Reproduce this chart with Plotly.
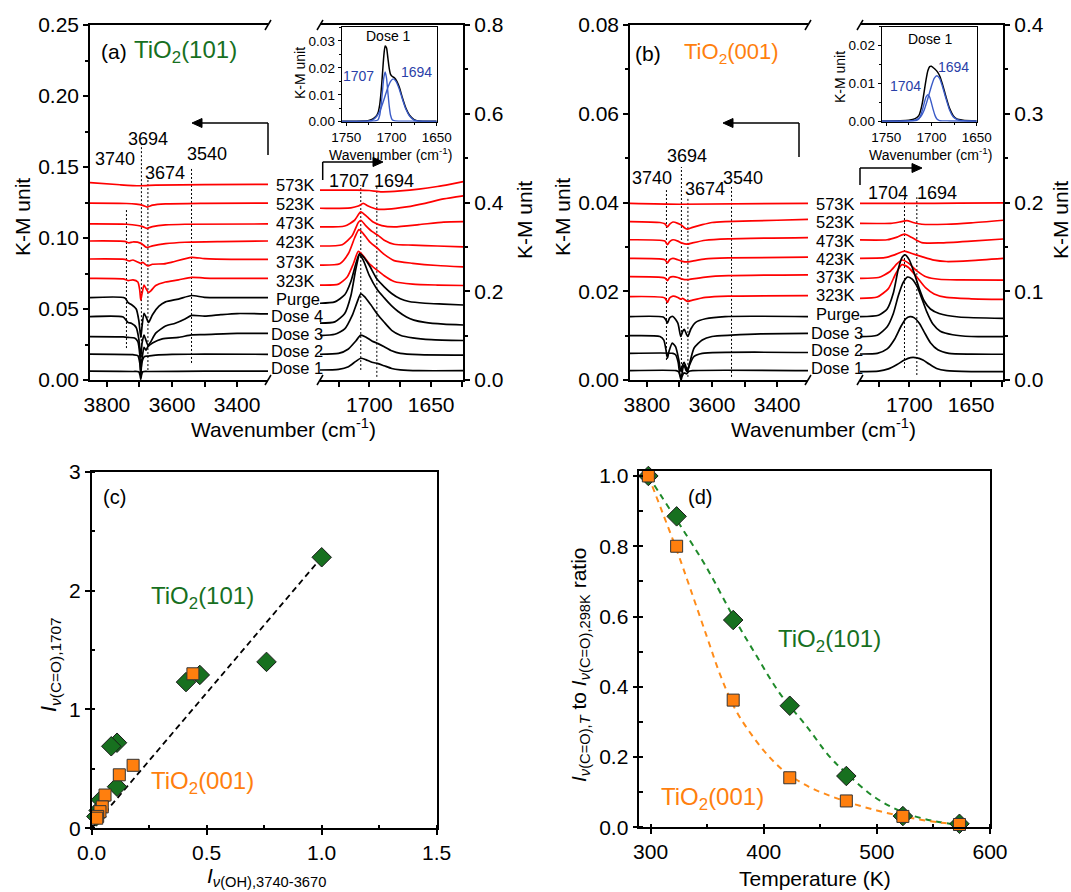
import plotly.graph_objects as go

# ---------------- DRIFT spectra, TiO2(101): O-H region (wavenumber, K-M) ----------------
a101_oh_573 = [(3852, .1390), (3760, .1375), (3700, .1368), (3650, .1372), (3500, .1376), (3305, .1378)]
a101_oh_523 = [(3852, .1245), (3740, .1243), (3710, .1238), (3690, .1230), (3676, .1218), (3660, .1231),
               (3620, .1240), (3500, .1244), (3305, .1246)]
a101_oh_473 = [(3852, .1099), (3740, .1097), (3705, .1088), (3690, .1080), (3678, .1068), (3660, .1080),
               (3620, .1092), (3560, .1097), (3305, .1099)]
a101_oh_423 = [(3852, .0979), (3745, .0976), (3732, .0966), (3720, .0972), (3695, .0962), (3678, .0934),
               (3660, .0945), (3620, .0960), (3560, .0970), (3450, .0975), (3305, .0979)]
a101_oh_373 = [(3852, .0852), (3745, .0849), (3732, .0838), (3720, .0845), (3696, .0822), (3690, .0828),
               (3674, .0803), (3660, .0815), (3625, .0818), (3600, .0830), (3540, .0864), (3500, .0855),
               (3400, .0850), (3305, .0850)]
a101_oh_323 = [(3852, .0716), (3750, .0712), (3735, .0700), (3720, .0705), (3705, .0690), (3699, .0630),
               (3696, .0563), (3692, .0610), (3686, .0669), (3679, .0640), (3672, .0615), (3665, .0628),
               (3650, .0665), (3620, .0690), (3580, .0705), (3540, .0723), (3500, .0718), (3400, .0715),
               (3305, .0716)]
a101_oh_purge = [(3852, .0580), (3745, .0578), (3735, .0545), (3725, .0532), (3710, .0500), (3702, .0420),
                 (3696, .0300), (3692, .0380), (3686, .0470), (3679, .0440), (3672, .0405), (3660, .0460),
                 (3640, .0520), (3620, .0550), (3580, .0570), (3540, .0595), (3500, .0582), (3400, .0580),
                 (3305, .0580)]
a101_oh_dose4 = [(3852, .0446), (3750, .0443), (3735, .0405), (3725, .0400), (3710, .0370), (3702, .0290),
                 (3696, .0160), (3692, .0260), (3686, .0317), (3680, .0280), (3674, .0245), (3665, .0270),
                 (3650, .0330), (3620, .0380), (3590, .0400), (3560, .0430), (3540, .0455), (3500, .0450),
                 (3450, .0460), (3400, .0468), (3305, .0465)]
a101_oh_dose3 = [(3852, .0305), (3750, .0303), (3735, .0300), (3715, .0295), (3705, .0270), (3699, .0180),
                 (3696, .0060), (3692, .0150), (3686, .0230), (3680, .0210), (3674, .0235), (3660, .0260),
                 (3630, .0290), (3580, .0300), (3540, .0318), (3500, .0320), (3400, .0328), (3305, .0328)]
a101_oh_dose2 = [(3852, .0182), (3720, .0178), (3705, .0172), (3699, .0120), (3696, .0030), (3693, .0120),
                 (3685, .0165), (3674, .0168), (3650, .0175), (3600, .0180), (3500, .0182), (3305, .0181)]
a101_oh_dose1 = [(3852, .0062), (3720, .0060), (3702, .0058), (3698, .0030), (3696, .0005), (3694, .0030),
                 (3690, .0058), (3674, .0060), (3500, .0062), (3305, .0062)]

# ---------------- TiO2(101): C=O region ----------------
a101_co_573 = [(1740, .428), (1710, .428), (1700, .427), (1690, .424), (1675, .426), (1660, .430),
               (1645, .436), (1635, .441), (1624, .447)]
a101_co_523 = [(1740, .387), (1715, .388), (1709, .392), (1705, .398), (1701, .392), (1694, .385),
               (1685, .385), (1670, .390), (1655, .398), (1640, .408), (1624, .415)]
a101_co_473 = [(1740, .345), (1720, .347), (1712, .360), (1707, .379), (1702, .368), (1697, .356),
               (1690, .348), (1680, .345), (1660, .350), (1640, .356), (1624, .357)]
a101_co_423 = [(1740, .302), (1722, .305), (1714, .325), (1709, .355), (1707, .360), (1703, .348),
               (1698, .335), (1693, .326), (1688, .315), (1680, .306), (1665, .304), (1645, .302), (1624, .300)]
a101_co_373 = [(1740, .259), (1724, .262), (1717, .285), (1712, .320), (1708.5, .339), (1705, .330),
               (1700, .312), (1694, .298), (1688, .283), (1680, .269), (1665, .263), (1645, .258), (1624, .255)]
a101_co_323 = [(1740, .214), (1725, .216), (1718, .232), (1713, .262), (1709, .290), (1705, .280),
               (1700, .262), (1694, .248), (1688, .235), (1680, .222), (1665, .216), (1645, .214), (1624, .213)]
a101_co_purge = [(1740, .173), (1728, .176), (1720, .192), (1715, .222), (1711, .262), (1708, .285),
                 (1705, .278), (1700, .258), (1694, .228), (1688, .210), (1682, .195), (1675, .183),
                 (1668, .177), (1655, .173), (1640, .171), (1624, .169)]
a101_co_dose4 = [(1740, .128), (1728, .131), (1720, .150), (1715, .190), (1711, .250), (1708, .282),
                 (1705, .270), (1700, .235), (1694, .205), (1688, .185), (1682, .167), (1677, .155),
                 (1670, .142), (1664, .135), (1655, .130), (1640, .126), (1624, .124)]
a101_co_dose3 = [(1740, .100), (1728, .103), (1720, .115), (1714, .145), (1710, .175), (1707, .194),
                 (1704, .188), (1699, .170), (1694, .150), (1688, .130), (1682, .112), (1675, .101),
                 (1665, .095), (1650, .091), (1624, .089)]
a101_co_dose2 = [(1740, .058), (1725, .060), (1717, .070), (1711, .088), (1707, .101), (1703, .097),
                 (1698, .088), (1693, .082), (1688, .075), (1682, .066), (1675, .060), (1660, .057), (1624, .056)]
a101_co_dose1 = [(1740, .0225), (1725, .024), (1717, .030), (1711, .042), (1707, .049), (1703, .046),
                 (1698, .040), (1693, .037), (1688, .032), (1682, .026), (1675, .023), (1660, .021), (1624, .021)]

# ---------------- TiO2(001): O-H region ----------------
b001_oh_573 = [(3852, .0398), (3700, .0396), (3305, .0398)]
b001_oh_523 = [(3852, .0357), (3760, .0355), (3745, .0352), (3737, .0345), (3730, .0351), (3720, .0356),
               (3705, .0353), (3694, .0349), (3685, .0343), (3676, .0340), (3660, .0344), (3630, .0350),
               (3600, .0355), (3560, .0357), (3400, .0360), (3305, .0362)]
b001_oh_473 = [(3852, .0316), (3745, .0313), (3737, .0305), (3730, .0312), (3720, .0316), (3705, .0313),
               (3694, .0309), (3676, .0306), (3660, .0309), (3620, .0315), (3550, .0318), (3305, .0321)]
b001_oh_423 = [(3852, .0274), (3745, .0271), (3737, .0264), (3730, .0271), (3720, .0274), (3705, .0271),
               (3694, .0268), (3676, .0266), (3660, .0268), (3620, .0273), (3550, .0275), (3305, .0277)]
b001_oh_373 = [(3852, .0233), (3745, .0230), (3737, .0224), (3730, .0231), (3720, .0233), (3705, .0231),
               (3694, .0228), (3676, .0226), (3660, .0228), (3620, .0232), (3550, .0235), (3305, .0237)]
b001_oh_323 = [(3852, .0188), (3745, .0185), (3737, .0175), (3730, .0185), (3720, .0189), (3705, .0186),
               (3696, .0182), (3690, .0184), (3676, .0177), (3660, .0180), (3620, .0186), (3550, .0189),
               (3305, .0190)]
b001_oh_purge = [(3852, .0143), (3750, .0142), (3742, .0136), (3737, .0128), (3730, .0140), (3720, .0143),
                 (3705, .0128), (3696, .0098), (3690, .0110), (3685, .0114), (3679, .0104), (3674, .0098),
                 (3665, .0115), (3650, .0130), (3620, .0138), (3560, .0143), (3305, .0143)]
b001_oh_dose3 = [(3852, .0100), (3760, .0098), (3748, .0090), (3742, .0070), (3737, .0049), (3732, .0065),
                 (3722, .0083), (3712, .0075), (3702, .0045), (3696, .0020), (3690, .0035), (3686, .0040),
                 (3680, .0030), (3676, .0019), (3668, .0040), (3655, .0072), (3630, .0090), (3600, .0098),
                 (3540, .0101), (3450, .0104), (3305, .0105)]
b001_oh_dose2 = [(3852, .0060), (3720, .0060), (3712, .0057), (3704, .0040), (3698, .0010), (3694, .0008),
                 (3690, .0025), (3686, .0034), (3680, .0022), (3676, .0019), (3668, .0036), (3655, .0053),
                 (3630, .0060), (3305, .0062)]
b001_oh_dose1 = [(3852, .0021), (3710, .0021), (3702, .0018), (3698, .0008), (3695, .0000), (3692, .0008),
                 (3686, .0016), (3678, .0014), (3672, .0019), (3660, .0021), (3305, .0021)]

# ---------------- TiO2(001): C=O region ----------------
b001_co_573 = [(1740, .1990), (1700, .1990), (1660, .1992), (1624, .1995)]
b001_co_523 = [(1740, .1765), (1715, .1765), (1708, .1780), (1702, .1795), (1697, .1775), (1690, .1755),
               (1670, .1755), (1650, .1770), (1624, .1800)]
b001_co_473 = [(1740, .1578), (1718, .1580), (1710, .1610), (1704, .1643), (1698, .1605), (1690, .1548),
               (1675, .1545), (1650, .1565), (1624, .1589)]
b001_co_423 = [(1740, .1371), (1720, .1378), (1712, .1410), (1704, .1453), (1698, .1425), (1690, .1390),
               (1680, .1350), (1670, .1335), (1650, .1345), (1624, .1370)]
b001_co_373 = [(1740, .1146), (1725, .1155), (1716, .1220), (1710, .1310), (1706, .1352), (1701, .1320),
               (1694, .1230), (1686, .1160), (1676, .1135), (1660, .1128), (1624, .1125)]
b001_co_323 = [(1740, .0920), (1726, .0935), (1717, .1030), (1711, .1200), (1706, .1300), (1701, .1270),
               (1694, .1160), (1687, .1040), (1680, .0970), (1670, .0930), (1650, .0915), (1624, .0909)]
b001_co_purge = [(1740, .0714), (1725, .0730), (1718, .0800), (1713, .0980), (1709, .1250), (1706, .1380),
                 (1703.5, .1409), (1700, .1350), (1696, .1200), (1692, .1030), (1688, .0890), (1683, .0800),
                 (1676, .0750), (1660, .0710), (1624, .0695)]
b001_co_dose3 = [(1740, .0488), (1726, .0505), (1718, .0600), (1713, .0750), (1709, .0950), (1705, .1100),
                 (1701.5, .1160), (1698, .1140), (1694, .1060), (1690, .0920), (1686, .0770), (1681, .0630),
                 (1675, .0550), (1665, .0510), (1650, .0490), (1624, .0488)]
b001_co_dose2 = [(1740, .0293), (1726, .0300), (1718, .0350), (1712, .0460), (1707, .0600), (1703, .0690),
                 (1699.5, .0714), (1696, .0700), (1692, .0640), (1688, .0540), (1683, .0420), (1677, .0340),
                 (1668, .0300), (1650, .0292), (1624, .0290)]
b001_co_dose1 = [(1740, .0094), (1725, .0100), (1717, .0125), (1710, .0175), (1704, .0225), (1699, .0252),
                 (1694, .0250), (1689, .0225), (1684, .0180), (1678, .0130), (1670, .0105), (1650, .0095),
                 (1624, .0094)]

# ---------------- insets: Dose 1 carbonyl band and its two fitted components ----------------
inset_a_total = [(1755, .0002), (1726, .0004), (1721, .0009), (1717, .0020), (1715, .0032), (1713, .0063),
                 (1711.5, .0110), (1710, .0175), (1708.5, .0243), (1707, .0281), (1705.5, .0275),
                 (1704, .0238), (1702.5, .0199), (1701, .0176), (1699, .0168), (1697, .0164), (1694, .0150),
                 (1691, .0125), (1688, .0090), (1684, .0050), (1680, .0024), (1675, .0008), (1670, .0003),
                 (1650, .0002)]
inset_a_1707 = [(1755, .0001), (1725, .0002), (1717, .0004), (1715, .0006), (1713, .0024), (1711.5, .0059),
                (1710, .0111), (1708.5, .0163), (1707, .0185), (1705.5, .0163), (1704, .0111), (1702.5, .0059),
                (1701, .0024), (1699, .0006), (1696, .0003), (1680, .0002), (1650, .0001)]
inset_a_1694 = [(1755, .0001), (1726, .0002), (1721, .0006), (1716, .0021), (1712, .0046), (1708, .0085),
                (1704, .0127), (1701, .0150), (1698, .0159), (1695, .0150), (1692, .0127), (1688, .0085),
                (1684, .0046), (1680, .0021), (1675, .0006), (1670, .0002), (1650, .0001)]
inset_b_total = [(1755, .0002), (1725, .0004), (1718, .0008), (1714, .0016), (1712, .0029), (1710, .0050),
                 (1708, .0080), (1706, .0110), (1704, .0134), (1702, .0145), (1700, .0146), (1698, .0142),
                 (1696, .0138), (1694, .0133), (1691, .0121), (1688, .0100), (1684, .0066), (1680, .0035),
                 (1676, .0016), (1672, .0007), (1665, .0004), (1650, .0002)]
inset_b_1704 = [(1755, .0001), (1725, .0002), (1717, .0003), (1714, .0007), (1712, .0016), (1710, .0031),
                (1708, .0049), (1706, .0065), (1704, .0071), (1702, .0065), (1700, .0049), (1698, .0031),
                (1696, .0016), (1694, .0007), (1691, .0003), (1680, .0002), (1650, .0001)]
inset_b_1694 = [(1755, .0001), (1725, .0002), (1720, .0003), (1716, .0006), (1712, .0013), (1708, .0031),
                (1704, .0061), (1700, .0094), (1697, .0114), (1694, .0121), (1691, .0114), (1688, .0094),
                (1684, .0061), (1680, .0031), (1676, .0013), (1672, .0006), (1668, .0003), (1660, .0002),
                (1650, .0001)]

# ---------------- guide lines at assigned band positions ----------------
oh_bands = [3740, 3694, 3674, 3540]
a_oh_band_lo = [.0225, .0020, .0070, .0120]
a_oh_band_hi = [.1210, .1660, .1420, .1500]
b_oh_band_lo = [.0045, .0000, .0007, .0007]
b_oh_band_hi = [.0428, .0480, .0412, .0435]
a_co_bands = [1707, 1694]
a_co_band_lo = [.0225, .0070]
a_co_band_hi = [.439, .439]
b_co_bands = [1704, 1694]
b_co_band_lo = [.0135, .0056]
b_co_band_hi = [.206, .206]

# ---------------- (c) carbonyl vs. hydroxyl intensity ----------------
c101_oh = [1.00, 0.76, 0.47, 0.41, 0.11, 0.085, 0.11, 0.04, 0.03, 0.02]
c101_co = [2.28, 1.40, 1.29, 1.23, 0.72, 0.69, 0.35, 0.24, 0.15, 0.10]
c001_oh = [0.44, 0.18, 0.12, 0.058, 0.046, 0.036, 0.026, 0.022]
c001_co = [1.30, 0.53, 0.45, 0.28, 0.18, 0.14, 0.10, 0.085]
c_fit_oh = [0.0, 1.0]
c_fit_co = [0.0, 2.28]

# ---------------- (d) thermal stability ----------------
d_temp = [298, 323, 373, 423, 473, 523, 573]
d101_ratio = [1.0, 0.885, 0.59, 0.346, 0.146, 0.032, 0.010]
d001_ratio = [1.0, 0.80, 0.362, 0.141, 0.075, 0.031, 0.008]
d101_fit_t = [298, 308, 325, 349, 373, 394, 414, 438, 458, 473, 497, 523, 550, 576]
d101_fit_r = [1.0, 0.95, 0.865, 0.742, 0.60, 0.486, 0.382, 0.287, 0.202, 0.154, 0.088, 0.043, 0.018, 0.006]
d001_fit_t = [298, 310, 323, 335, 350, 362, 375, 390, 405, 420, 440, 460, 480, 500, 520, 540, 560, 576]
d001_fit_r = [1.0, 0.90, 0.79, 0.68, 0.54, 0.43, 0.335, 0.26, 0.20, 0.155, 0.115, 0.088, 0.066, 0.048,
              0.033, 0.021, 0.012, 0.007]

a_names = ["573K", "523K", "473K", "423K", "373K", "323K", "Purge", "Dose 4", "Dose 3", "Dose 2", "Dose 1"]
b_names = ["573K", "523K", "473K", "423K", "373K", "323K", "Purge", "Dose 3", "Dose 2", "Dose 1"]

# ======================================================================
W, H = 1071, 892
FONT = "Liberation Sans, Arial, Helvetica, sans-serif"
RED, BLACK = "#ff0000", "#000000"
GREEN, ORANGE, BLUE = "#17701f", "#ff7f0e", "#2a3fa8"
BLUE_LINE = "#3a5bc7"


def fx(p):
    return p / W


def fy(p):
    return 1 - p / H


fig = go.Figure()


def add_curve(pts, xa, ya, color, width=1.7, shape="spline"):
    fig.add_trace(go.Scatter(
        x=[p[0] for p in pts], y=[p[1] for p in pts], mode="lines", xaxis=xa, yaxis=ya,
        line=dict(color=color, width=width, shape=shape, smoothing=0.6), hoverinfo="skip"))


def add_guides(xs, lo, hi, xa, ya):
    for x, a, b in zip(xs, lo, hi):
        fig.add_trace(go.Scatter(x=[x, x], y=[a, b], mode="lines", xaxis=xa, yaxis=ya,
                                 line=dict(color=BLACK, width=1, dash="2px,2px"), hoverinfo="skip"))


# spectra
a_oh = [a101_oh_573, a101_oh_523, a101_oh_473, a101_oh_423, a101_oh_373, a101_oh_323,
        a101_oh_purge, a101_oh_dose4, a101_oh_dose3, a101_oh_dose2, a101_oh_dose1]
a_co = [a101_co_573, a101_co_523, a101_co_473, a101_co_423, a101_co_373, a101_co_323,
        a101_co_purge, a101_co_dose4, a101_co_dose3, a101_co_dose2, a101_co_dose1]
b_oh = [b001_oh_573, b001_oh_523, b001_oh_473, b001_oh_423, b001_oh_373, b001_oh_323,
        b001_oh_purge, b001_oh_dose3, b001_oh_dose2, b001_oh_dose1]
b_co = [b001_co_573, b001_co_523, b001_co_473, b001_co_423, b001_co_373, b001_co_323,
        b001_co_purge, b001_co_dose3, b001_co_dose2, b001_co_dose1]

add_guides(oh_bands, a_oh_band_lo, a_oh_band_hi, "x", "y")
add_guides(a_co_bands, a_co_band_lo, a_co_band_hi, "x2", "y2")
add_guides(oh_bands, b_oh_band_lo, b_oh_band_hi, "x3", "y3")
add_guides(b_co_bands, b_co_band_lo, b_co_band_hi, "x4", "y4")

for name, s1, s2 in zip(a_names, a_oh, a_co):
    col = RED if name.endswith("K") else BLACK
    add_curve(s1, "x", "y", col)
    add_curve(s2, "x2", "y2", col)
for name, s1, s2 in zip(b_names, b_oh, b_co):
    col = RED if name.endswith("K") else BLACK
    add_curve(s1, "x3", "y3", col)
    add_curve(s2, "x4", "y4", col)

# insets
add_curve(inset_a_total, "x5", "y5", BLACK, 1.5)
add_curve(inset_a_1707, "x5", "y5", BLUE_LINE, 1.4)
add_curve(inset_a_1694, "x5", "y5", BLUE_LINE, 1.4)
add_curve(inset_b_total, "x6", "y6", BLACK, 1.5)
add_curve(inset_b_1704, "x6", "y6", BLUE_LINE, 1.4)
add_curve(inset_b_1694, "x6", "y6", BLUE_LINE, 1.4)

# (c)
fig.add_trace(go.Scatter(x=c_fit_oh, y=c_fit_co, mode="lines", xaxis="x7", yaxis="y7",
                         line=dict(color=BLACK, width=1.8, dash="6px,4px"), hoverinfo="skip"))
fig.add_trace(go.Scatter(x=c101_oh, y=c101_co, mode="markers", xaxis="x7", yaxis="y7", cliponaxis=False,
                         marker=dict(symbol="diamond", size=15, color=GREEN, line=dict(color="#1a1a1a", width=1)),
                         hoverinfo="skip"))
fig.add_trace(go.Scatter(x=c001_oh, y=c001_co, mode="markers", xaxis="x7", yaxis="y7", cliponaxis=False,
                         marker=dict(symbol="square", size=12, color=ORANGE, line=dict(color="#333333", width=1)),
                         hoverinfo="skip"))

# (d)
fig.add_trace(go.Scatter(x=d101_fit_t, y=d101_fit_r, mode="lines", xaxis="x8", yaxis="y8",
                         line=dict(color="#1f8a2a", width=2, dash="6px,5px", shape="spline"), hoverinfo="skip"))
fig.add_trace(go.Scatter(x=d001_fit_t, y=d001_fit_r, mode="lines", xaxis="x8", yaxis="y8",
                         line=dict(color="#ff8c1a", width=2, dash="6px,5px", shape="spline"), hoverinfo="skip"))
fig.add_trace(go.Scatter(x=d_temp, y=d101_ratio, mode="markers", xaxis="x8", yaxis="y8", cliponaxis=False,
                         marker=dict(symbol="diamond", size=15, color=GREEN, line=dict(color="#1a1a1a", width=1)),
                         hoverinfo="skip"))
fig.add_trace(go.Scatter(x=d_temp, y=d001_ratio, mode="markers", xaxis="x8", yaxis="y8", cliponaxis=False,
                         marker=dict(symbol="square", size=12, color=ORANGE, line=dict(color="#333333", width=1)),
                         hoverinfo="skip"))


# ---------------- axes ----------------
def ax(x0, x1, rng, anchor, size=21, **kw):
    d = dict(domain=[x0, x1], range=rng, anchor=anchor, automargin=False, showline=True, linecolor=BLACK,
             linewidth=1.5, ticks="outside", ticklen=5, tickwidth=1.5, tickcolor=BLACK, showgrid=False,
             zeroline=False, tickfont=dict(family=FONT, size=size, color=BLACK))
    d.update(kw)
    return d


def minor(where="outside", ln=3, width=1.5, **kw):
    d = dict(ticks=where, ticklen=ln, tickwidth=width, tickcolor=BLACK, showgrid=False)
    d.update(kw)
    return d


oh_ticks = dict(tickmode="array", tickvals=[3800, 3600, 3400],
                minor=minor(ln=5, tickmode="array", tickvals=[3700, 3500]))
co_ticks = dict(tickmode="array", tickvals=[1700, 1650],
                minor=minor(ln=5, tickmode="array", tickvals=[1725, 1675, 1625]))
inset_x = dict(tickmode="array", tickvals=[1750, 1700, 1650], ticklen=3, mirror=True,
               minor=minor(ln=2, width=1.2, tickmode="array", tickvals=[1725, 1675]))

layout_axes = dict(
    xaxis=ax(fx(90), fx(268), [3852, 3305], "y", mirror=True, **oh_ticks),
    yaxis=ax(fy(380), fy(25), [0, 0.25], "x", dtick=0.05, tickformat=".2f", minor=minor(dtick=0.025)),
    xaxis2=ax(fx(320), fx(463.3), [1740, 1624], "y2", mirror=True, **co_ticks),
    yaxis2=ax(fy(380), fy(25), [0, 0.8], "x2", side="right", dtick=0.2, tickformat=".1f",
              minor=minor(dtick=0.1)),
    xaxis3=ax(fx(630), fx(808), [3852, 3305], "y3", mirror=True, **oh_ticks),
    yaxis3=ax(fy(380), fy(25), [0, 0.08], "x3", dtick=0.02, tickformat=".2f", minor=minor(dtick=0.01)),
    xaxis4=ax(fx(860), fx(1003.3), [1740, 1624], "y4", mirror=True, **co_ticks),
    yaxis4=ax(fy(380), fy(25), [0, 0.4], "x4", side="right", dtick=0.1, tickformat=".1f",
              minor=minor(dtick=0.05)),
    xaxis5=ax(fx(341.7), fx(436.7), [1755, 1650], "y5", size=13.5, linewidth=1.2, tickwidth=1.2, **inset_x),
    yaxis5=ax(fy(121.7), fy(26.7), [0, 0.0353], "x5", size=13.5, linewidth=1.2, tickwidth=1.2, ticklen=3,
              mirror=True, dtick=0.01, tickformat=".2f", minor=minor(ln=2, width=1.2, dtick=0.005)),
    xaxis6=ax(fx(881.7), fx(976.7), [1755, 1650], "y6", size=13.5, linewidth=1.2, tickwidth=1.2, **inset_x),
    yaxis6=ax(fy(121.7), fy(26.7), [0, 0.025], "x6", size=13.5, linewidth=1.2, tickwidth=1.2, ticklen=3,
              mirror=True, dtick=0.01, tickformat=".2f", minor=minor(ln=2, width=1.2, dtick=0.005)),
    xaxis7=ax(fx(91.7), fx(436.7), [0, 1.5], "y7", mirror=True, dtick=0.5, tickformat=".1f",
              minor=minor("inside", 4, dtick=0.25)),
    yaxis7=ax(fy(828.3), fy(471.7), [0, 3], "x7", mirror=True, dtick=1, tickformat="d",
              minor=minor("inside", 4, dtick=0.5)),
    xaxis8=ax(fx(639.3), fx(990), [290, 600], "y8", mirror=True, dtick=100,
              minor=minor("inside", 4, dtick=50)),
    yaxis8=ax(fy(827.3), fy(470.7), [0, 1.015], "x8", mirror=True, dtick=0.2, tickformat=".1f",
              minor=minor("inside", 4, dtick=0.1)),
)

# ---------------- annotations ----------------
notes = []


def text(xp, yp, s, size, color=BLACK, xanchor="center", angle=0):
    notes.append(dict(x=fx(xp), y=fy(yp), xref="paper", yref="paper", text=s, showarrow=False,
                      font=dict(family=FONT, size=size, color=color), xanchor=xanchor, yanchor="middle",
                      textangle=angle, borderpad=0))


TIO_101 = "TiO<sub>2</sub>(101)"
TIO_001 = "TiO<sub>2</sub>(001)"
WAVENUMBER = "Wavenumber (cm<sup>-1</sup>)"

# panel headers
text(114, 52, "(a)", 21)
text(185, 52, TIO_101, 24, GREEN)
text(647.5, 53, "(b)", 21)
text(731.5, 53, TIO_001, 22, ORANGE)
text(115, 497, "(c)", 20)
text(202.5, 597, TIO_101, 24, GREEN)
text(202.5, 782, TIO_001, 24, ORANGE)
text(700, 497, "(d)", 20)
text(829, 640, TIO_101, 24, GREEN)
text(712.5, 798, TIO_001, 24, ORANGE)

# axis titles
for xp, yp in [(23, 217), (524, 220), (563, 217), (1060, 220)]:
    text(xp, yp, "K-M unit", 21, angle=-90)
text(283, 428, WAVENUMBER, 21)
text(823, 428, WAVENUMBER, 21)
text(266, 877, "<i>I</i><sub><i>ν</i>(OH),3740-3670</sub>", 21)
text(50, 665, "<i>I</i><sub><i>ν</i>(C=O),1707</sub>", 22, angle=-90)
text(815, 878, "Temperature (K)", 21)
text(580, 665, "<i>I</i><sub><i>ν</i>(C=O),<i>T</i></sub> to <i>I</i><sub><i>ν</i>(C=O),298K</sub> ratio",
     21, angle=-90)

# band labels
for s, xp, yp in [("3740", 114.5, 159.5), ("3694", 147.5, 139), ("3674", 164.5, 172.5), ("3540", 207, 154)]:
    text(xp, yp, s, 18)
for s, xp, yp in [("3740", 652, 177.5), ("3694", 686.7, 155.8), ("3674", 704.5, 189), ("3540", 743, 177.5)]:
    text(xp, yp, s, 18)
text(349, 180.5, "1707", 18)
text(394, 180.5, "1694", 18)
text(888, 192.5, "1704", 18)
text(936.7, 192.5, "1694", 18)

# spectrum labels
a_label_y = [185, 204, 222.7, 242.3, 261.7, 281, 299, 316, 334.3, 351, 368.3]
for name, yp in zip(a_names, a_label_y):
    text(270 if name.startswith("Dose") else 275, yp, name, 16.5, xanchor="left")
b_label_y = [204, 222.3, 240.7, 259, 276.7, 295, 314.3, 332.7, 350, 368.3]
for name, yp in zip(b_names, b_label_y):
    text(810 if name.startswith("Dose") else 815, yp, name, 16.5, xanchor="left")

# inset texts
text(388.3, 35.7, "Dose 1", 14)
text(358.3, 75.7, "1707", 14, BLUE)
text(416, 72.3, "1694", 14, BLUE)
text(390, 154, WAVENUMBER, 14)
text(300, 73, "K-M unit", 14, angle=-90)
text(930, 39, "Dose 1", 14)
text(905.7, 85.7, "1704", 14, BLUE)
text(953.3, 66.7, "1694", 14, BLUE)
text(930, 154, WAVENUMBER, 14)
text(840, 77, "K-M unit", 14, angle=-90)

# bent arrows pointing to the axis each spectral region belongs to
shapes = []
line_style = dict(color=BLACK, width=1.5)
for corner_x, bottom_y, head_x, head_y in [(268, 155, 192, 123), (322.7, 180, 383, 162),
                                           (799, 157, 723, 123), (860, 185, 922, 168)]:
    shapes.append(dict(type="line", xref="paper", yref="paper", x0=fx(corner_x), x1=fx(corner_x),
                       y0=fy(bottom_y), y1=fy(head_y), line=line_style))
    sgn = 1 if head_x < corner_x else -1
    shapes.append(dict(type="line", xref="paper", yref="paper", x0=fx(corner_x), x1=fx(head_x + sgn * 6),
                       y0=fy(head_y), y1=fy(head_y), line=line_style))
    tip = f"M {fx(head_x)} {fy(head_y)} L {fx(head_x + sgn * 10)} {fy(head_y - 4.5)} " \
          f"L {fx(head_x + sgn * 10)} {fy(head_y + 4.5)} Z"
    shapes.append(dict(type="path", xref="paper", yref="paper", path=tip, fillcolor=BLACK,
                       line=dict(color=BLACK, width=1)))
# axis-break marks
for xv in [268, 320, 808, 860]:
    for yv in [25, 380]:
        shapes.append(dict(type="line", xref="paper", yref="paper", x0=fx(xv - 3), x1=fx(xv + 3),
                           y0=fy(yv + 5), y1=fy(yv - 5), line=line_style))

fig.update_layout(
    template="none",
    width=W, height=H, margin=dict(l=0, r=0, t=0, b=0, pad=0, autoexpand=False),
    paper_bgcolor="white", plot_bgcolor="white", showlegend=False, hovermode=False,
    font=dict(family=FONT, color=BLACK),
    annotations=notes, shapes=shapes, **layout_axes,
)

fig.write_html("out.html")
